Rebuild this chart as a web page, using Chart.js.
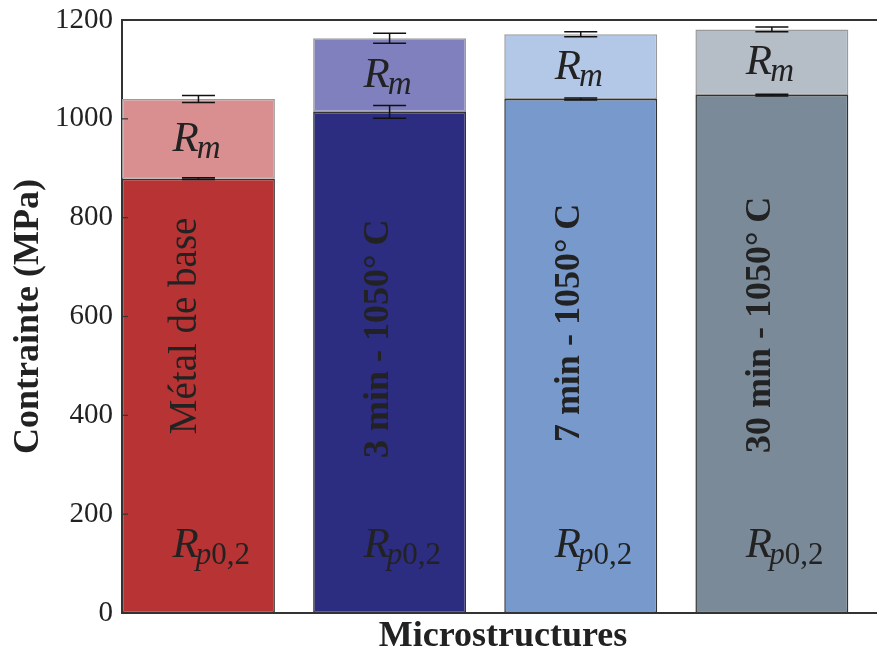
<!DOCTYPE html>
<html>
<head>
<meta charset="utf-8">
<script src="https://cdn.jsdelivr.net/npm/chart.js@4.4.1/dist/chart.umd.min.js"></script>
<style>
  html, body { margin: 0; padding: 0; background: #fff; overflow: hidden; }
  #wrap { width: 877px; height: 654px; }
</style>
</head>
<body>
<div id="wrap"><canvas id="chart" width="877" height="654"></canvas></div>
<script>
// values (MPa)
const categories = ['Métal de base', '3 min - 1050° C', '7 min - 1050° C', '30 min - 1050° C']
const rp02 = [879, 1014, 1040, 1048]
const rp02Err = [2, 13, 2, 2]
const rm = [1040, 1163, 1171, 1181]
const rmErr = [7, 10, 5, 5]
const yTicks = [0, 200, 400, 600, 800, 1000, 1200]

const rpColors = ['#b83434', '#2c2c80', '#7799cc', '#7a8a99']
const rmColors = ['#d98f8f', '#8080bf', '#b3c7e6', '#b5bdc7']

const serif = "'Liberation Serif', 'DejaVu Serif', serif"

// bars sit like matplotlib align='edge': left edge at i, width 0.8
const barX = categories.map((c, i) => i + 0.4)

const extras = {
    id: 'extras',
    afterDatasetsDraw(chart) {
        const ctx = chart.ctx
        const xs = chart.scales.x
        const ys = chart.scales.y
        ctx.save()
        ctx.strokeStyle = '#111'
        ctx.lineWidth = 1.5
        categories.forEach((c, i) => {
            const cx = xs.getPixelForValue(barX[i])
            const pairs = [[rp02[i], rp02Err[i]], [rm[i], rmErr[i]]]
            pairs.forEach(([v, e]) => {
                const y1 = ys.getPixelForValue(v - e)
                const y2 = ys.getPixelForValue(v + e)
                ctx.beginPath()
                ctx.moveTo(cx, y1); ctx.lineTo(cx, y2)
                ctx.moveTo(cx - 16.5, y1); ctx.lineTo(cx + 16.5, y1)
                ctx.moveTo(cx - 16.5, y2); ctx.lineTo(cx + 16.5, y2)
                ctx.stroke()
            })
        })
        ctx.restore()
    },
    afterDraw(chart) {
        const ctx = chart.ctx
        const area = chart.chartArea
        const xs = chart.scales.x
        const ys = chart.scales.y
        ctx.save()

        // top spine + inward ticks on the left spine
        ctx.strokeStyle = '#333'
        ctx.lineWidth = 2
        ctx.beginPath()
        ctx.moveTo(area.left - 1, area.top)
        ctx.lineTo(area.right, area.top)
        ctx.stroke()
        ctx.lineWidth = 1.2
        yTicks.forEach(t => {
            const y = ys.getPixelForValue(t)
            ctx.beginPath()
            ctx.moveTo(area.left, y)
            ctx.lineTo(area.left + 6, y)
            ctx.stroke()
        })

        ctx.fillStyle = '#222'
        const labelCenter = [581, 555, 587, 583]
        categories.forEach((c, i) => {
            const cx = xs.getPixelForValue(barX[i])

            // R_m in the upper segment
            const midRm = ys.getPixelForValue((rp02[i] + rm[i]) / 2) + 12
            let x0 = cx - 26
            ctx.textAlign = 'left'
            ctx.textBaseline = 'alphabetic'
            ctx.font = 'italic 43px ' + serif
            ctx.fillText('R', x0, midRm)
            let w = ctx.measureText('R').width
            ctx.font = 'italic 33px ' + serif
            ctx.fillText('m', x0 + w - 2, midRm + 7)

            // R_p0,2 near the bottom
            const yRp = ys.getPixelForValue(113)
            ctx.font = 'italic 43px ' + serif
            ctx.fillText('R', x0, yRp)
            ctx.font = 'italic 31px ' + serif
            ctx.fillText('p', x0 + w - 3, yRp + 7)
            const wp = ctx.measureText('p').width
            ctx.font = '31px ' + serif
            ctx.fillText('0,2', x0 + w - 3 + wp, yRp + 7)

            // rotated microstructure name
            ctx.save()
            ctx.translate(cx - 2, ys.getPixelForValue(labelCenter[i]))
            ctx.rotate(-Math.PI / 2)
            ctx.textAlign = 'center'
            ctx.font = (i === 0 ? '39px ' : 'bold 36px ') + serif
            ctx.fillText(c, 0, 0)
            ctx.restore()
        })

        // axis titles
        ctx.font = 'bold 36px ' + serif
        ctx.textAlign = 'center'
        ctx.fillText('Microstructures', 503, 646)
        ctx.save()
        ctx.translate(38, (area.top + area.bottom) / 2)
        ctx.rotate(-Math.PI / 2)
        ctx.fillText('Contrainte (MPa)', 0, 0)
        ctx.restore()

        ctx.restore()
    }
}

const canvas = document.getElementById('chart')
const bg = {
    id: 'bg',
    beforeDraw(chart) {
        const ctx = chart.ctx
        ctx.save()
        ctx.fillStyle = '#fff'
        ctx.fillRect(0, 0, chart.width, chart.height)
        ctx.restore()
    }
}

new Chart(canvas.getContext('2d'), {
    type: 'bar',
    data: {
        datasets: [
            {
                label: 'Rp0,2',
                data: barX.map((x, i) => ({ x: x, y: rp02[i] })),
                backgroundColor: rpColors,
                borderColor: '#333',
                borderWidth: 1.5,
                borderSkipped: false,
                barPercentage: 0.8,
                categoryPercentage: 1
            },
            {
                label: 'Rm',
                data: barX.map((x, i) => ({ x: x, y: rm[i] - rp02[i] })),
                backgroundColor: rmColors,
                borderColor: '#9a9a9a',
                borderWidth: 1.5,
                borderSkipped: false,
                barPercentage: 0.8,
                categoryPercentage: 1
            }
        ]
    },
    options: {
        responsive: false,
        animation: false,
        layout: { padding: { top: 20, right: 0, bottom: 0, left: 0 } },
        plugins: {
            legend: { display: false },
            tooltip: { enabled: false }
        },
        scales: {
            x: {
                type: 'linear',
                stacked: true,
                offset: false,
                min: 0,
                max: 3.95,
                grid: { display: false },
                border: { color: '#333', width: 2 },
                ticks: { display: false },
                afterBuildTicks(scale) {
                    scale.ticks = categories.map((c, i) => ({ value: i }))
                },
                afterFit(scale) { scale.height = 41 }
            },
            y: {
                stacked: true,
                min: 0,
                max: 1200,
                grid: { display: false, drawTicks: false },
                border: { color: '#333', width: 2 },
                ticks: {
                    stepSize: 200,
                    padding: 9,
                    color: '#222',
                    font: { family: serif, size: 29, lineHeight: 1 },
                    callback: v => String(v)
                },
                afterFit(scale) {
                    scale.width = 122
                    scale.paddingTop = 0
                    scale.paddingBottom = 0
                }
            }
        }
    },
    plugins: [bg, extras]
})
</script>
</body>
</html>
